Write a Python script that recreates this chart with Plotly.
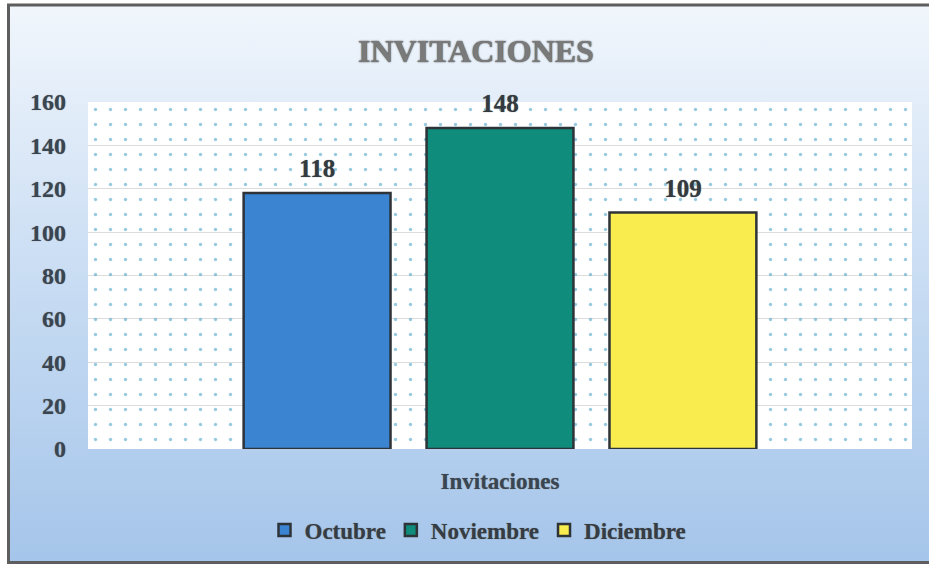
import plotly.graph_objects as go

# ---- data ----
category = ["Invitaciones"]
months = ["Octubre", "Noviembre", "Diciembre"]
values = [118, 148, 109]
colors = ["#3a84d2", "#0f8c7c", "#f9ec4e"]
y_ticks = [0, 20, 40, 60, 80, 100, 120, 140, 160]
title_text = "INVITACIONES"

W, H = 929, 568
# plot area in pixels
PL, PR, PT, PB = 88, 912, 102, 449
dx = [PL / W, PR / W]
dy = [1 - PB / H, 1 - PT / H]
# chart frame interior
BX0, BX1, BY0, BY1 = 10 / W, 1.0, 1 - 561 / H, 1 - 6 / H

FONT = "Liberation Serif"

fig = go.Figure()

# gradient frame around plot area (decoration)
def rect(x0, x1, y0, y1):
    return [x0, x1, x1, x0, x0, None], [y0, y0, y1, y1, y0, None]

fx, fy = [], []
for r in [rect(BX0, BX1, dy[1], BY1), rect(BX0, BX1, BY0, dy[0]),
          rect(BX0, dx[0] + 0.001, dy[0] - 0.001, dy[1] + 0.001),
          rect(dx[1] - 0.001, BX1, dy[0] - 0.001, dy[1] + 0.001)]:
    fx += r[0]
    fy += r[1]

fig.add_trace(go.Scatter(
    x=fx, y=fy, xaxis="x", yaxis="y", mode="lines", fill="toself",
    connectgaps=False,
    line=dict(width=0, color="rgba(0,0,0,0)"),
    fillgradient=dict(type="vertical", start=BY0, stop=BY1,
                      colorscale=[[0, "#a5c5ea"], [0.5, "#c8dcf3"], [1, "#f1f6fc"]]),
    hoverinfo="skip", showlegend=False))

# dotted plot-area background
fig.add_trace(go.Bar(
    x=[0.5], y=[y_ticks[-1]], width=[1], xaxis="x2", yaxis="y2",
    marker=dict(color="rgba(0,0,0,0)", line=dict(width=0),
                pattern=dict(shape=".", fgcolor="#2f94c0", size=15,
                             solidity=0.04, fillmode="overlay")),
    hoverinfo="skip", showlegend=False))

# padding spans (larger font, blank) lift the outside label a little off the bar
PAD = "<span style='font-size:58px'> </span>"
for m, v, c in zip(months, values, colors):
    fig.add_trace(go.Bar(
        name=m, x=category, y=[v], xaxis="x3", yaxis="y2",
        marker=dict(color=c, line=dict(color="#2e3338", width=2.5)),
        text=[v], texttemplate=PAD + "%{text}" + PAD,
        textposition="outside", cliponaxis=False, constraintext="none",
        textfont=dict(family=FONT, size=25, color="#333a40", weight="bold",
                      shadow="0px 0px 1px #666")))

fig.add_shape(type="rect", xref="paper", yref="paper",
              x0=8.5 / W, x1=1.02, y0=1 - 562.5 / H, y1=1 - 5 / H,
              line=dict(color="#5e5e5e", width=3), layer="above")

fig.add_annotation(text=title_text, xref="paper", yref="paper",
                   x=476 / W, y=1 - 51 / H, xanchor="center", yanchor="middle",
                   showarrow=False,
                   font=dict(family=FONT, size=32, color="#7a7a7a", weight="bold",
                             shadow="0px 0px 1.5px #222"))

fig.update_layout(
    width=W, height=H,
    margin=dict(l=0, r=0, t=0, b=0, autoexpand=False),
    paper_bgcolor="#f7f7f7", plot_bgcolor="white",
    barmode="group", bargap=0.334, bargroupgap=0.197,
    showlegend=True,
    legend=dict(orientation="h", x=478 / W, xanchor="center",
                y=1 - 530 / H, yanchor="middle", bgcolor="rgba(0,0,0,0)",
                itemwidth=30,
                font=dict(family=FONT, size=23, color="#353c44", weight="bold",
                          shadow="0px 0px 1px #777")),
    xaxis=dict(domain=[0, 1], range=[0, 1], visible=False, fixedrange=True),
    yaxis=dict(domain=[0, 1], range=[0, 1], visible=False, fixedrange=True),
    xaxis2=dict(domain=dx, anchor="y2", range=[0, 1], visible=False, fixedrange=True),
    yaxis2=dict(domain=dy, anchor="x2", range=[0, 160], tickvals=y_ticks,
                showgrid=True, gridcolor="#dcdcdc", gridwidth=1,
                zeroline=False, showline=False, ticks="",
                ticklabelstandoff=21,
                tickfont=dict(family=FONT, size=24, color="#3a4552", weight="bold",
                              shadow="0px 0px 1px #777")),
    xaxis3=dict(overlaying="x2", anchor="y2", type="category",
                showgrid=False, showline=False, zeroline=False, ticks="",
                ticklabelstandoff=16,
                tickfont=dict(family=FONT, size=23, color="#3a4552", weight="bold",
                              shadow="0px 0px 1px #777")),
)

fig.write_html("out.html", config={"displayModeBar": False},
               post_script="document.body.style.margin='0';document.body.style.overflow='hidden';")
